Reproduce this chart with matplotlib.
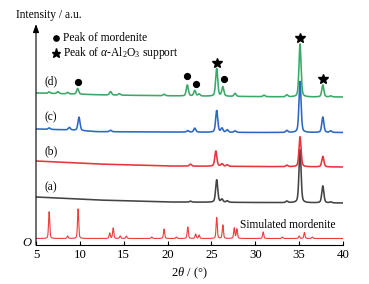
import numpy as np
import matplotlib
matplotlib.use("Agg")
import matplotlib.pyplot as plt

plt.rcParams['font.family'] = ['Liberation Serif', 'DejaVu Serif']
plt.rcParams['mathtext.fontset'] = 'custom'
plt.rcParams['mathtext.rm'] = 'Liberation Serif'
plt.rcParams['mathtext.it'] = 'Liberation Serif:italic'

# ---------------- data (y in arbitrary offset units) -------------
# simulated mordenite: baseline and peaks (position, height)
sim_base_x = [5, 40]
sim_base_y = [6.5, 6.5]
sim_pos = [6.5, 8.6, 9.8, 13.4, 13.8, 14.6, 15.3, 18.2, 19.6, 21.0, 22.3, 23.2, 23.6,
           25.6, 26.3, 27.6, 27.9, 30.9, 33.1, 35.0, 35.6, 36.5]
sim_hgt = [26.8, 2.5, 29.5, 5.5, 10.5, 2.5, 2.5, 1.5, 9.5, 1.5, 11.5, 4.5, 3.5,
           21.0, 13.5, 10.5, 9.5, 6.5, 1.5, 2.5, 6.0, 1.5]

# (a) gray
a_base_x = [5, 12, 20, 30, 40]
a_base_y = [48, 45, 43, 42.5, 42]
a_pos = [22.6, 25.6, 26.2, 26.8, 33.6, 35.1, 37.7, 38.6]
a_hgt = [1.0, 22.5, 3.0, 1.5, 1.5, 53.0, 17.0, 1.0]

# (b) red
b_base_x = [5, 12, 20, 30, 40]
b_base_y = [84, 81, 79, 78.5, 78]
b_pos = [22.6, 25.5, 26.2, 26.8, 33.6, 35.1, 37.7]
b_hgt = [2.0, 15.3, 2.5, 1.5, 1.5, 30.0, 10.5]

# (c) blue
c_base_x = [5, 9, 12, 20, 30, 40]
c_base_y = [116, 115, 113.3, 113, 112.5, 112.5]
c_pos = [6.5, 8.8, 9.9, 13.5, 22.3, 23.1, 25.6, 26.2, 26.8, 27.7, 33.6, 35.1, 37.7, 38.6]
c_hgt = [1.5, 2.5, 13.4, 1.5, 1.5, 4.0, 21.8, 4.0, 2.5, 1.5, 2.0, 51.0, 15.5, 1.5]

# (d) green
d_base_x = [5, 13, 22, 35, 40]
d_base_y = [152, 150, 149, 148, 148]
d_pos = [6.5, 7.5, 8.6, 9.75, 13.5, 14.5, 19.6, 22.25, 23.1, 23.6, 25.6, 26.3, 27.7,
         31.0, 33.6, 35.1, 37.7, 38.6]
d_hgt = [1.5, 2.0, 1.5, 5.7, 3.5, 1.5, 1.5, 11.0, 5.5, 2.0, 27.7, 9.3, 3.0,
         1.5, 2.0, 53.0, 12.0, 1.0]

# markers: mordenite peaks (circles) and alpha-Al2O3 peaks (stars)
circ_x = [9.75, 22.2, 23.2, 26.4]
circ_y = [162.7, 169.3, 161.0, 165.7]
star_x = [25.6, 35.1, 37.7]
star_y = [182.3, 207.0, 166.0]

labels = ['(d)', '(c)', '(b)', '(a)']
label_y = [163.3, 127.7, 94.0, 57.7]
xticks = [5, 10, 15, 20, 25, 30, 35, 40]

# ---------------- drawing -------------
x = np.linspace(5, 40, 3501)


def pattern(bx, by, pos, hgt, w):
    y = np.interp(x, bx, by).astype(float)
    for p, h in zip(pos, hgt):
        g = np.exp(-4 * np.log(2) * ((x - p) / w) ** 2)
        l = 1.0 / (1 + 4 * ((x - p) / w) ** 2)
        y += h * (0.6 * g + 0.4 * l)
    return y


fig = plt.figure(figsize=(3.69, 2.84), dpi=100)
ax = fig.add_axes([36 / 369, 1 - 245 / 284, 307 / 369, 219 / 284])
ax.set_xlim(5, 40)
ax.set_ylim(0, 219)

lw = 1.15
ax.plot(x, pattern(sim_base_x, sim_base_y, sim_pos, sim_hgt, 0.16), color='#ee3b3b', lw=0.8)
ax.plot(x, pattern(a_base_x, a_base_y, a_pos, a_hgt, 0.28), color='#444444', lw=lw)
ax.plot(x, pattern(b_base_x, b_base_y, b_pos, b_hgt, 0.28), color='#e8343c', lw=lw)
ax.plot(x, pattern(c_base_x, c_base_y, c_pos, c_hgt, 0.28), color='#2c68c2', lw=lw)
ax.plot(x, pattern(d_base_x, d_base_y, d_pos, d_hgt, 0.28), color='#3aa868', lw=lw)

ax.plot(circ_x, circ_y, 'o', color='black', ms=4.2, clip_on=False)
ax.plot(star_x, star_y, '*', color='black', ms=7.5, clip_on=False)

fs = 8.3
# legend
ax.plot([7.28], [206.7], 'o', color='black', ms=3.8, clip_on=False)
ax.plot([7.28], [192.3], '*', color='black', ms=6.5, clip_on=False)
ax.text(8.1, 206.7, 'Peak of mordenite', fontsize=fs, va='center', ha='left')
ax.text(8.1, 192.3, r'Peak of $\alpha$-Al$_2$O$_3$ support', fontsize=fs, va='center', ha='left')

for lab, ly in zip(labels, label_y):
    ax.text(6.68, ly, lab, fontsize=fs, ha='center', va='center')

ax.text(28.3, 20, 'Simulated mordenite', fontsize=fs, ha='left', va='center')
ax.text(6.5, 230, 'Intensity / a.u.', fontsize=fs, ha='center', va='center', clip_on=False)
ax.text(4.0, 2.0, 'O', fontsize=9, style='italic', ha='center', va='center', clip_on=False)

# axes styling
for s in ['top', 'right', 'left']:
    ax.spines[s].set_visible(False)
ax.spines['bottom'].set_linewidth(0.8)
ax.annotate('', xy=(5, 221), xytext=(5, 0), xycoords='data',
            arrowprops=dict(arrowstyle='-|>,head_length=0.5,head_width=0.18', color='black', lw=0.8,
                            shrinkA=0, shrinkB=0), annotation_clip=False)
ax.set_yticks([])
ax.set_xticks(xticks)
ax.set_xticklabels([str(t) for t in xticks])
ax.tick_params(axis='x', direction='in', length=3, width=0.8, labelsize=9.2, pad=3)
ax.set_xlabel(r'$2\theta$ / (°)', fontsize=9, labelpad=3)

fig.savefig('out.png', dpi=100)
